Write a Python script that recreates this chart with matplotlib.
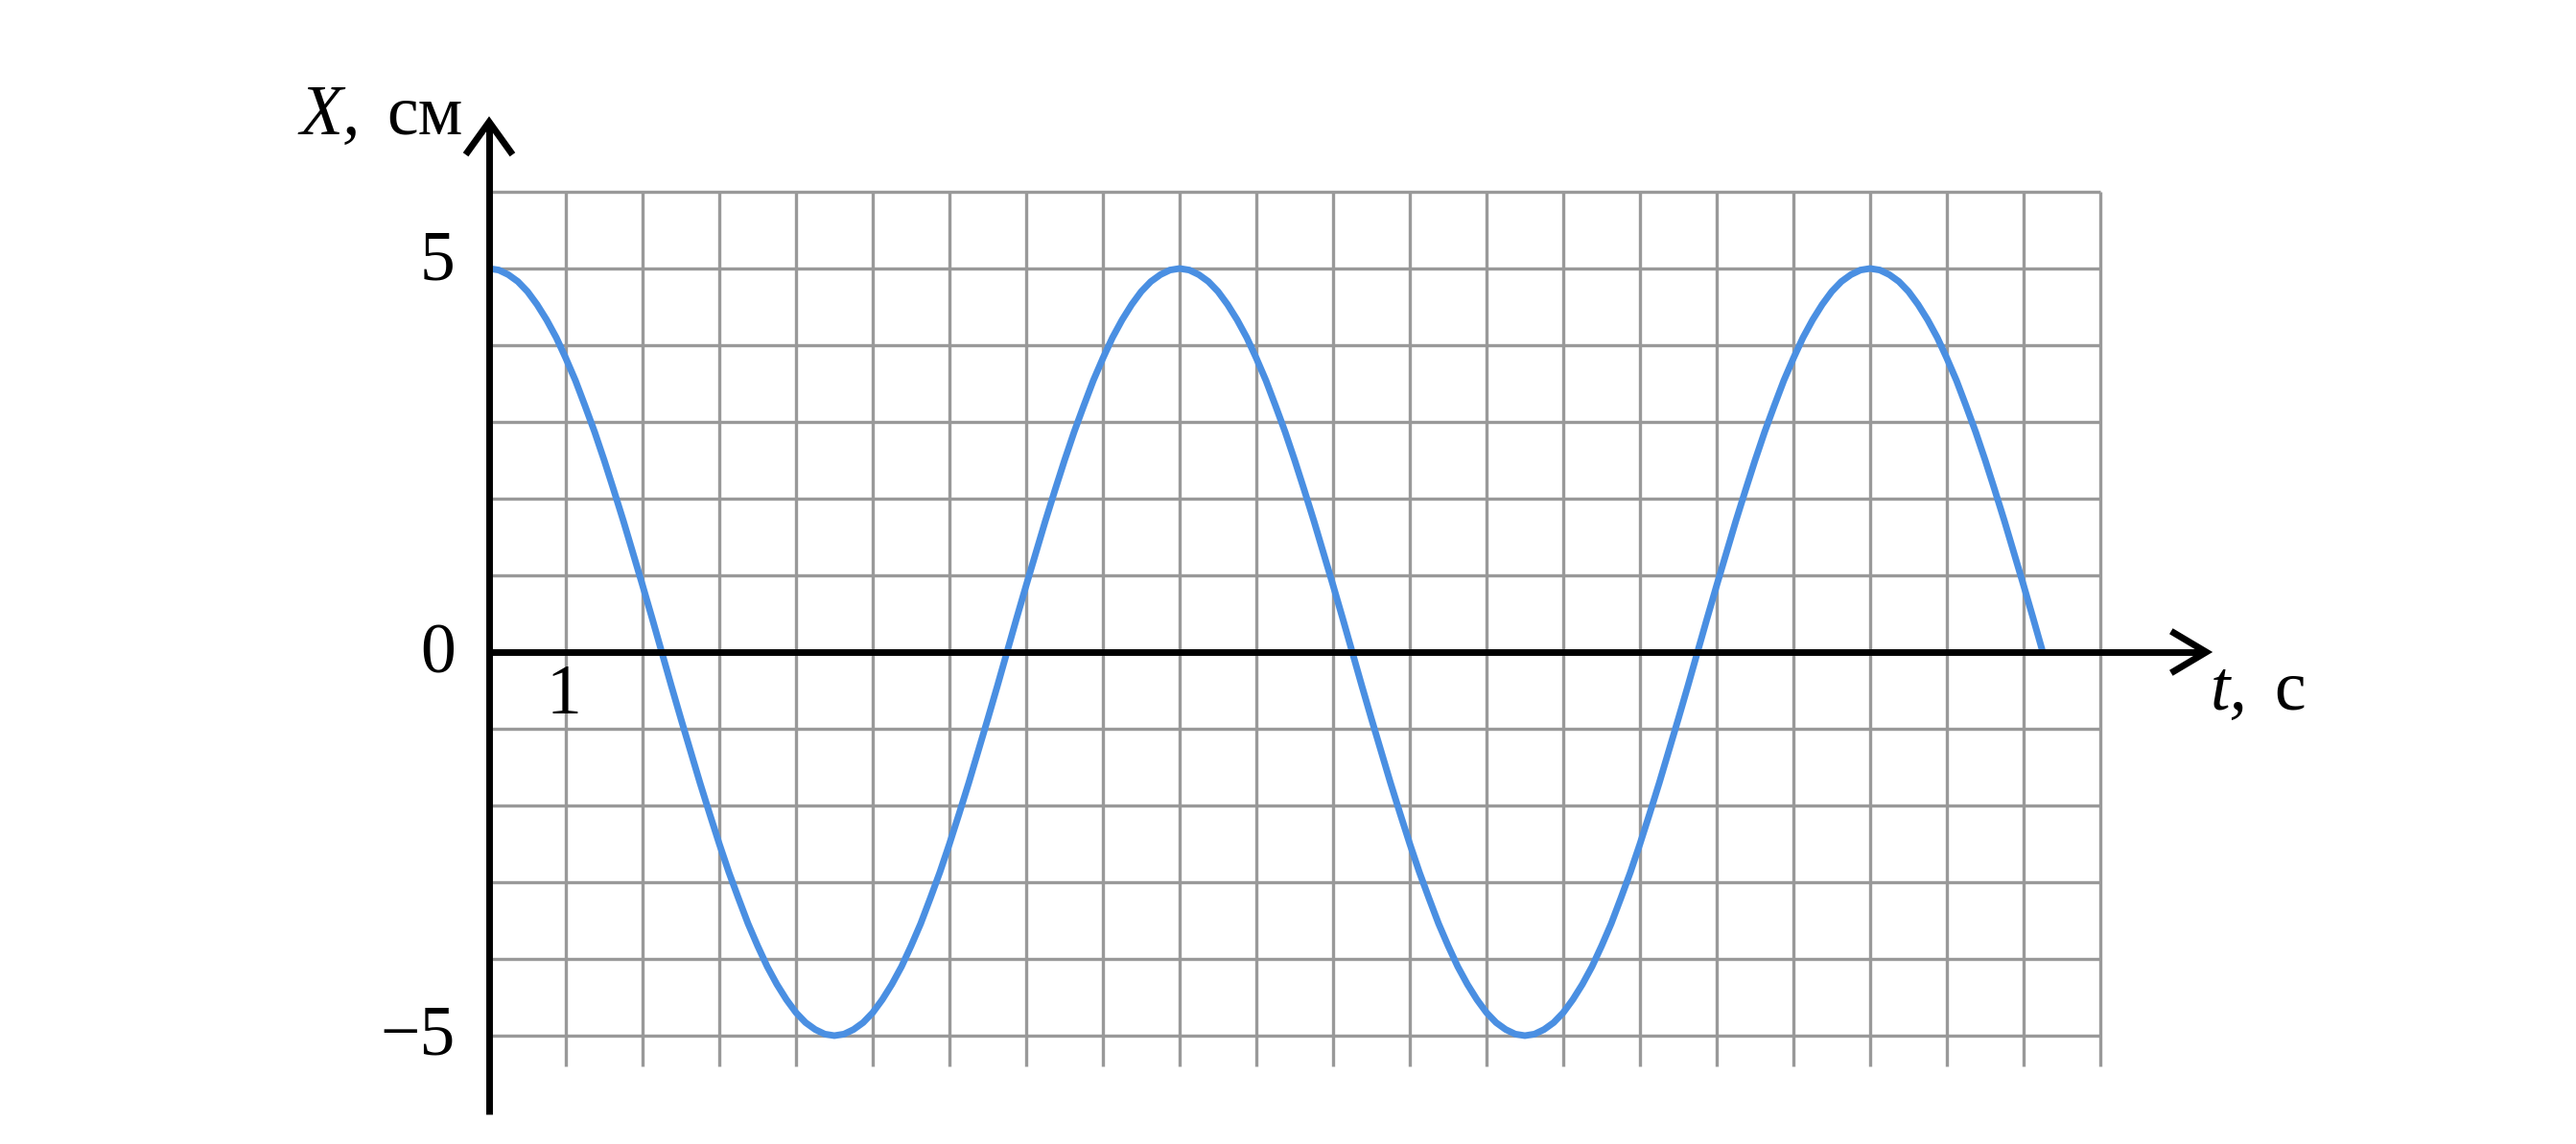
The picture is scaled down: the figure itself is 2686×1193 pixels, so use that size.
import matplotlib
matplotlib.use("Agg")
import matplotlib.pyplot as plt

# ---- data ----
t_values = [i * 0.125 for i in range(163)]  # time samples, s (0 .. 20.25)
x_values = [
    # first period
    5.00, 4.98, 4.92, 4.83, 4.70, 4.53, 4.33, 4.10, 3.83, 3.54, 3.21, 2.87,
    2.50, 2.11, 1.71, 1.29, 0.87, 0.44, 0.00,
    -0.44, -0.87, -1.29, -1.71, -2.11, -2.50, -2.87, -3.21, -3.54, -3.83,
    -4.10, -4.33, -4.53, -4.70, -4.83, -4.92, -4.98, -5.00,
    -4.98, -4.92, -4.83, -4.70, -4.53, -4.33, -4.10, -3.83, -3.54, -3.21,
    -2.87, -2.50, -2.11, -1.71, -1.29, -0.87, -0.44, 0.00,
    0.44, 0.87, 1.29, 1.71, 2.11, 2.50, 2.87, 3.21, 3.54, 3.83, 4.10, 4.33,
    4.53, 4.70, 4.83, 4.92, 4.98,
    # second period
    5.00, 4.98, 4.92, 4.83, 4.70, 4.53, 4.33, 4.10, 3.83, 3.54, 3.21, 2.87,
    2.50, 2.11, 1.71, 1.29, 0.87, 0.44, 0.00,
    -0.44, -0.87, -1.29, -1.71, -2.11, -2.50, -2.87, -3.21, -3.54, -3.83,
    -4.10, -4.33, -4.53, -4.70, -4.83, -4.92, -4.98, -5.00,
    -4.98, -4.92, -4.83, -4.70, -4.53, -4.33, -4.10, -3.83, -3.54, -3.21,
    -2.87, -2.50, -2.11, -1.71, -1.29, -0.87, -0.44, 0.00,
    0.44, 0.87, 1.29, 1.71, 2.11, 2.50, 2.87, 3.21, 3.54, 3.83, 4.10, 4.33,
    4.53, 4.70, 4.83, 4.92, 4.98,
    # last quarter
    5.00, 4.98, 4.92, 4.83, 4.70, 4.53, 4.33, 4.10, 3.83, 3.54, 3.21, 2.87,
    2.50, 2.11, 1.71, 1.29, 0.87, 0.44, 0.00,
]
grid_x = list(range(1, 22))      # vertical grid lines, s
grid_y = list(range(-5, 7))      # horizontal grid lines, cm
y_tick_values = [5, 0, -5]
y_tick_labels = ["5", "0", "\u22125"]
x_tick_values = [1]
x_tick_labels = ["1"]
y_label_var, y_label_unit = "X,", "см"
x_label_var, x_label_unit = "t,", "с"

W, H, DPI = 2686, 1193, 100
fig = plt.figure(figsize=(W / DPI, H / DPI), dpi=DPI)
ax = fig.add_axes([0, 0, 1, 1])
px = 80.0
x0_px, y0_px = 510.0, 680.0
ax.set_xlim(-x0_px / px, (W - x0_px) / px)
ax.set_ylim(-(H - y0_px) / px, y0_px / px)
ax.axis("off")

grid_col = "#999999"
ax.vlines(grid_x, -5.4, 6, colors=grid_col, linewidth=2.4, zorder=1)
ax.hlines(grid_y, 0, 21, colors=grid_col, linewidth=2.4, zorder=1)

ax.plot(t_values, x_values, color="#4a8fe2", linewidth=5.0,
        solid_joinstyle="round", solid_capstyle="butt", zorder=3)

axis_lw = 5.0
# y axis
ax.plot([0, 0], [-6.03, 6.9], color="black", linewidth=axis_lw,
        solid_capstyle="butt", zorder=4)
ax.plot([-0.28, 0, 0.28], [6.52, 6.91, 6.52], color="black",
        linewidth=axis_lw, solid_joinstyle="miter", zorder=4)
# x axis
ax.plot([0, 22.36], [0, 0], color="black", linewidth=axis_lw,
        solid_capstyle="butt", zorder=4)
ax.plot([21.96, 22.38, 21.96], [0.25, 0, -0.25], color="black",
        linewidth=axis_lw, solid_joinstyle="miter", zorder=4)

font = "Liberation Serif"
fs = 53
for v, lab in zip(y_tick_values, y_tick_labels):
    base = {5: 4.85, 0: -0.27, -5: -5.25}[v]
    ax.text(-0.44, base, lab, ha="right", va="baseline", fontsize=fs,
            family=font, color="black")
for v, lab in zip(x_tick_values, x_tick_labels):
    ax.text(v - 0.03, -0.8, lab, ha="center", va="baseline", fontsize=fs,
            family=font, color="black")

ax.text(-2.47, 6.75, y_label_var, ha="left", va="baseline", fontsize=fs,
        family=font, style="italic", color="black")
ax.text(-1.33, 6.75, y_label_unit, ha="left", va="baseline", fontsize=fs,
        family=font, color="black")
ax.text(22.44, -0.75, x_label_var, ha="left", va="baseline", fontsize=fs,
        family=font, style="italic", color="black")
ax.text(23.27, -0.75, x_label_unit, ha="left", va="baseline", fontsize=fs,
        family=font, color="black")

fig.savefig("out.png", dpi=DPI, facecolor="white")
